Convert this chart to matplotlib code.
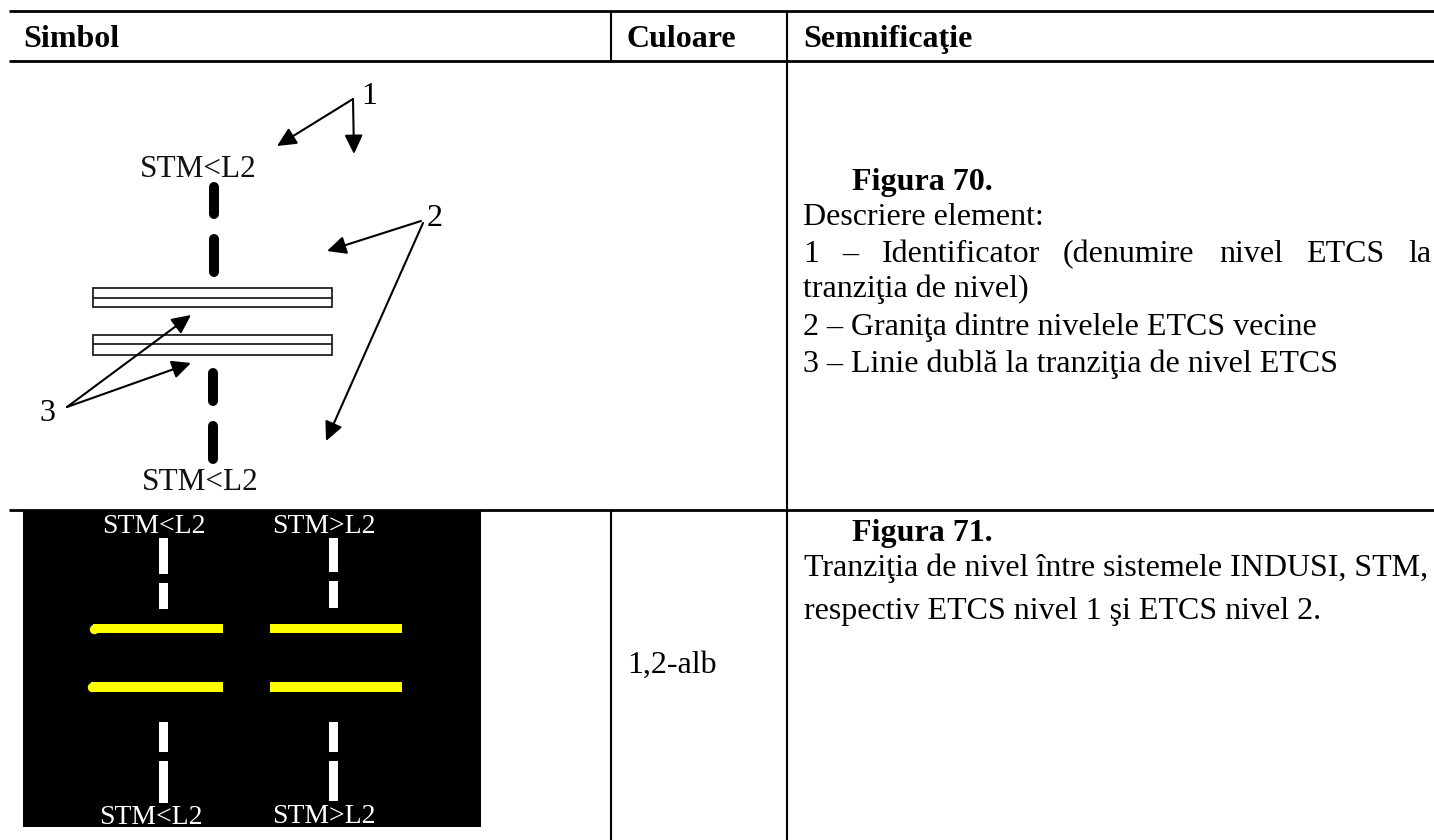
import matplotlib
matplotlib.use("Agg")
import matplotlib.pyplot as plt
from matplotlib.patches import Rectangle

plt.rcParams['font.family'] = ['Liberation Serif', 'DejaVu Serif']

# table
h_lines = [11, 61, 510]
v_lines = [(611, 11, 61), (611, 510, 840), (787, 11, 840)]
headers = ["Simbol", "Culoare", "Semnificaţie"]
header_x = [23, 627, 803]
header_y = 47

# text of the right column
bold_labels = ["Figura 70.", "Figura 71."]
bold_pos = [(852, 190), (852, 541)]
body_lines = ["Descriere element:", "tranziţia de nivel)",
              "2 – Graniţa dintre nivelele ETCS vecine",
              "3 – Linie dublă la tranziţia de nivel ETCS",
              "Tranziţia de nivel între sistemele INDUSI, STM,",
              "respectiv ETCS nivel 1 şi ETCS nivel 2."]
body_pos = [(803, 225), (803, 297), (803, 335), (803, 372), (804, 576), (804, 619)]
justified_words = ["1", "–", "Identificator", "(denumire", "nivel", "ETCS", "la"]
justified_x = [803, 842, 882, 1063, 1219, 1306, 1408]
justified_y = 262
color_label = "1,2-alb"
color_label_pos = (627, 673)

# upper symbol
dash_black = [(214, 182, 219), (214, 234, 277), (213, 368, 406), (213, 421, 464)]
double_bars = [(288, 298, 307), (335, 344, 355)]
bar_x = (93, 332)
upper_labels = [("STM<L2", 198, 177), ("STM<L2", 200, 490)]
arrows = [((353, 99), (277, 146)), ((353, 99), (354, 154)),
          ((421, 221), (327, 251)), ((423, 223), (326, 441)),
          ((67, 407), (191, 315)), ((67, 407), (191, 363))]
numbers = [("1", 369, 104), ("2", 435, 226), ("3", 47, 421)]

# lower symbol
black_box = (23, 511, 481, 827)
white_dashes = [(159, 168, 538, 574), (159, 168, 583, 609), (159, 168, 722, 752), (159, 168, 761, 803),
                (329, 338, 538, 572), (329, 338, 581, 608), (329, 338, 722, 752), (329, 338, 761, 801)]
yellow_bars = [(90, 223, 624, 633), (88, 223, 682, 692), (270, 402, 624, 633), (270, 402, 682, 692)]
rounded_ends = [(94, 628.5), (92, 687)]
lower_labels = [("STM<L2", 154, 533), ("STM>L2", 324, 533), ("STM<L2", 151, 824), ("STM>L2", 324, 823)]

FS = 23

fig = plt.figure(figsize=(14.34, 8.4), dpi=100)
ax = fig.add_axes([0, 0, 1, 1])
ax.set_xlim(0, 1434)
ax.set_ylim(840, 0)
ax.axis('off')

for y in h_lines:
    ax.plot([9, 1434], [y, y], color='black', lw=2.0, solid_capstyle='butt')
for x, y0, y1 in v_lines:
    ax.plot([x, x], [y0, y1], color='black', lw=1.5, solid_capstyle='butt')

for label, x in zip(headers, header_x):
    ax.text(x, header_y, label, fontsize=FS, fontweight='bold', va='baseline', ha='left')
for label, (x, y) in zip(bold_labels, bold_pos):
    ax.text(x, y, label, fontsize=FS, fontweight='bold', va='baseline', ha='left')
for label, (x, y) in zip(body_lines, body_pos):
    ax.text(x, y, label, fontsize=FS, va='baseline', ha='left')
for word, x in zip(justified_words, justified_x):
    ax.text(x, justified_y, word, fontsize=FS, va='baseline', ha='left')
ax.text(color_label_pos[0], color_label_pos[1], color_label, fontsize=FS, va='baseline', ha='left')

# upper symbol
for x, y0, y1 in dash_black:
    ax.plot([x, x], [y0 + 5, y1 - 5], color='black', lw=7.2, solid_capstyle='round')
for top, mid, bottom in double_bars:
    ax.add_patch(Rectangle((bar_x[0], top), bar_x[1] - bar_x[0], bottom - top, fc='white', ec='#222222', lw=1.3))
    ax.plot(bar_x, [mid, mid], color='#222222', lw=1.3)
for label, x, y in upper_labels:
    ax.text(x, y, label, fontsize=22.5, color='#111111', va='baseline', ha='center')
for start, end in arrows:
    ax.annotate("", xy=end, xytext=start,
                arrowprops=dict(arrowstyle='-|>,head_length=1.15,head_width=0.55', color='black',
                                lw=1.5, shrinkA=0, shrinkB=0))
for label, x, y in numbers:
    ax.text(x, y, label, fontsize=FS, va='baseline', ha='center')

# lower symbol
x0, y0, x1, y1 = black_box
ax.add_patch(Rectangle((x0, y0), x1 - x0, y1 - y0, fc='black', ec='none'))
for xa, xb, ya, yb in white_dashes:
    ax.add_patch(Rectangle((xa, ya), xb - xa, yb - ya, fc='white', ec='none'))
for xa, xb, ya, yb in yellow_bars:
    left = xa + 3 if xa < 100 else xa
    ax.add_patch(Rectangle((left, ya), xb - left, yb - ya, fc='#ffff00', ec='none'))
for x, y in rounded_ends:
    ax.plot([x], [y], marker='o', ms=6.8, color='#ffff00', mew=0)
for label, x, y in lower_labels:
    ax.text(x, y, label, fontsize=20, color='white', va='baseline', ha='center')

fig.savefig("out.png", dpi=100)
